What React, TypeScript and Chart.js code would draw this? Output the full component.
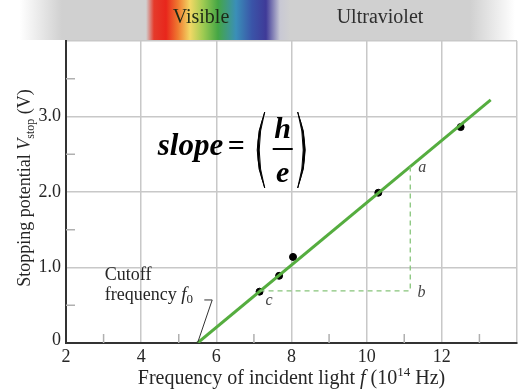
import React, { useEffect, useRef } from "react";
import { Chart, registerables } from "chart.js";

Chart.register(...registerables);

// ---- data ----
const fitLineX = [5.5, 13.3];
const fitLineY = [0, 3.22];
const measuredX = [7.15, 7.67, 8.04, 10.31, 12.5];
const measuredY = [0.68, 0.89, 1.14, 1.99, 2.86];
const triangleX = [7.15, 11.16, 11.16];
const triangleY = [0.69, 0.69, 2.34];
const leaderX = [5.68, 5.89, 5.5];
const leaderY = [0.57, 0.57, 0];
const xTickValues = [2, 4, 6, 8, 10, 12];
const xTickLabels = ["2", "4", "6", "8", "10", "12"];
const yTickValues = [0, 1, 2, 3];
const yTickLabels = ["0", "1.0", "2.0", "3.0"];
const xMinorTicks = [3, 5, 7, 9, 11, 13];
const yMinorTicks = [0.5, 1.5, 2.5, 3.5];

const SERIF = '"Liberation Serif", "Times New Roman", serif';
const TEXT = "#262626";
const GREEN = "#55ad3f";
const GREEN_DASH = "#86c47a";

type Run = { t: string; f: string; dy?: number };

function runsWidth(ctx: CanvasRenderingContext2D, runs: Run[]) {
  let w = 0;
  for (const r of runs) {
    ctx.font = r.f;
    w += ctx.measureText(r.t).width;
  }
  return w;
}
function drawRuns(ctx: CanvasRenderingContext2D, runs: Run[], x: number, y: number) {
  let cx = x;
  for (const r of runs) {
    ctx.font = r.f;
    ctx.fillText(r.t, cx, y + (r.dy || 0));
    cx += ctx.measureText(r.t).width;
  }
}

const overlay = {
  id: "overlay",
  beforeDraw(chart: any) {
    const ctx: CanvasRenderingContext2D = chart.ctx;
    const W = chart.width;
    ctx.save();
    ctx.fillStyle = "#ffffff";
    ctx.fillRect(0, 0, W, chart.height);
    // spectrum band
    const g = ctx.createLinearGradient(0, 0, W, 0);
    const gray = "#d0d0d0";
    const stops: [number, string][] = [
      [20, "#ffffff"],
      [62, gray],
      [146, gray],
      [154, "#e53a2a"],
      [166, "#e8261c"],
      [178, "#ef7a30"],
      [190, "#f2d865"],
      [203, "#9fcb52"],
      [218, "#45a645"],
      [236, "#3a8fb8"],
      [252, "#3a54a8"],
      [266, "#3f3a98"],
      [280, "#c8c8d4"],
      [290, gray],
      [470, gray],
      [515, "#ffffff"],
    ];
    for (const [px, c] of stops) g.addColorStop(Math.min(1, px / W), c);
    ctx.fillStyle = g;
    ctx.fillRect(0, 0, W, 40);
    ctx.textBaseline = "alphabetic";
    ctx.textAlign = "center";
    ctx.font = `20px ${SERIF}`;
    ctx.fillStyle = "#1e2a16";
    ctx.fillText("Visible", 201, 23);
    ctx.fillStyle = "#2e2e2e";
    ctx.fillText("Ultraviolet", 380, 23);
    ctx.restore();
  },
  afterDraw(chart: any) {
    const ctx: CanvasRenderingContext2D = chart.ctx;
    const xs = chart.scales.x;
    const ys = chart.scales.y;
    const area = chart.chartArea;
    ctx.save();
    // minor ticks
    ctx.strokeStyle = "#b0b0b0";
    ctx.lineWidth = 1.5;
    for (const v of xMinorTicks) {
      const px = xs.getPixelForValue(v);
      ctx.beginPath();
      ctx.moveTo(px, area.bottom);
      ctx.lineTo(px, area.bottom - 9);
      ctx.stroke();
    }
    for (const v of yMinorTicks) {
      const py = ys.getPixelForValue(v);
      ctx.beginPath();
      ctx.moveTo(area.left, py);
      ctx.lineTo(area.left + 9, py);
      ctx.stroke();
    }
    // tick labels
    ctx.fillStyle = TEXT;
    ctx.font = `18px ${SERIF}`;
    ctx.textAlign = "center";
    ctx.textBaseline = "alphabetic";
    xTickValues.forEach((v, i) => {
      ctx.fillText(xTickLabels[i], xs.getPixelForValue(v), area.bottom + 19);
    });
    ctx.textAlign = "right";
    ctx.textBaseline = "middle";
    yTickValues.forEach((v, i) => {
      const py = ys.getPixelForValue(v);
      ctx.fillText(yTickLabels[i], area.left - 5, v === 0 ? py - 3 : py);
    });
    // x axis title
    ctx.textAlign = "left";
    ctx.textBaseline = "alphabetic";
    const f20 = `20px ${SERIF}`;
    const xRuns: Run[] = [
      { t: "Frequency of incident light ", f: f20 },
      { t: "f", f: `italic 20px ${SERIF}` },
      { t: " (10", f: f20 },
      { t: "14", f: `13px ${SERIF}`, dy: -8 },
      { t: " Hz)", f: f20 },
    ];
    const xw = runsWidth(ctx, xRuns);
    drawRuns(ctx, xRuns, (area.left + area.right) / 2 - xw / 2, 384);
    // y axis title
    const f18 = `18px ${SERIF}`;
    const yRuns: Run[] = [
      { t: "Stopping potential ", f: f18 },
      { t: "V", f: `italic 18px ${SERIF}` },
      { t: "stop", f: `12px ${SERIF}`, dy: 4 },
      { t: " (V)", f: f18 },
    ];
    const yw = runsWidth(ctx, yRuns);
    ctx.save();
    ctx.translate(30, 188);
    ctx.rotate(-Math.PI / 2);
    drawRuns(ctx, yRuns, -yw / 2, 0);
    ctx.restore();

    // labels a, b, c
    ctx.font = `italic 16px ${SERIF}`;
    ctx.fillStyle = "#444";
    ctx.textAlign = "center";
    ctx.textBaseline = "middle";
    ctx.fillText("a", xs.getPixelForValue(11.48), ys.getPixelForValue(2.32));
    ctx.fillText("b", xs.getPixelForValue(11.46), ys.getPixelForValue(0.66));
    ctx.fillText("c", xs.getPixelForValue(7.4), ys.getPixelForValue(0.56));

    // cutoff text
    ctx.fillStyle = TEXT;
    ctx.textAlign = "left";
    ctx.textBaseline = "alphabetic";
    const cx = xs.getPixelForValue(3.03);
    const cy1 = ys.getPixelForValue(0.83);
    const cy2 = ys.getPixelForValue(0.57);
    ctx.font = `18px ${SERIF}`;
    ctx.fillText("Cutoff", cx, cy1);
    drawRuns(
      ctx,
      [
        { t: "frequency ", f: `18px ${SERIF}` },
        { t: "f", f: `italic 19px ${SERIF}` },
        { t: "0", f: `13px ${SERIF}`, dy: 3 },
      ],
      cx,
      cy2
    );

    // slope formula
    const sx = xs.getPixelForValue(4.44);
    const sy = ys.getPixelForValue(2.49);
    ctx.fillStyle = "#000";
    const bi = `bold italic 31px ${SERIF}`;
    ctx.font = bi;
    ctx.fillText("slope", sx, sy);
    ctx.font = `bold 30px ${SERIF}`;
    ctx.fillText("=", sx + 70, sy);
    const fx = sx + 125;
    ctx.font = `bold italic 30px ${SERIF}`;
    ctx.textAlign = "center";
    ctx.fillText("h", fx, sy - 17);
    ctx.fillText("e", fx, sy + 27);
    ctx.fillRect(fx - 10, sy - 7, 20, 2);
    // parentheses
    const top = sy - 43;
    const bot = sy + 33;
    const mid = (top + bot) / 2;
    ctx.lineWidth = 1;
    ctx.strokeStyle = "#000";
    ctx.beginPath();
    ctx.moveTo(fx - 18, top);
    ctx.quadraticCurveTo(fx - 33, mid, fx - 18, bot);
    ctx.quadraticCurveTo(fx - 29, mid, fx - 18, top);
    ctx.fill();
    ctx.stroke();
    ctx.beginPath();
    ctx.moveTo(fx + 15, top);
    ctx.quadraticCurveTo(fx + 30, mid, fx + 15, bot);
    ctx.quadraticCurveTo(fx + 26, mid, fx + 15, top);
    ctx.fill();
    ctx.stroke();
    ctx.restore();
  },
};

function pts(xs: number[], ys: number[]) {
  return xs.map((x, i) => ({ x, y: ys[i] }));
}

export default function App() {
  const ref = useRef<HTMLCanvasElement | null>(null);
  useEffect(() => {
    if (!ref.current) return;
    const chart = new Chart(ref.current, {
      type: "scatter",
      data: {
        datasets: [
          {
            type: "line",
            data: pts(leaderX, leaderY),
            borderColor: "#333",
            borderWidth: 1,
            pointRadius: 0,
            showLine: true,
          } as any,
          {
            type: "line",
            data: pts(triangleX, triangleY),
            borderColor: GREEN_DASH,
            borderWidth: 1.3,
            borderDash: [5, 4],
            pointRadius: 0,
            showLine: true,
          } as any,
          {
            type: "line",
            data: pts(fitLineX, fitLineY),
            borderColor: GREEN,
            borderWidth: 3,
            pointRadius: 0,
            showLine: true,
          } as any,
          {
            data: pts(measuredX, measuredY),
            backgroundColor: "#000",
            borderColor: "#000",
            pointRadius: 3.5,
          },
        ],
      },
      options: {
        animation: false,
        responsive: false,
        maintainAspectRatio: false,
        layout: { padding: { left: 66, top: 41, right: 3, bottom: 47 } },
        plugins: { legend: { display: false }, tooltip: { enabled: false } },
        scales: {
          x: {
            type: "linear",
            min: 2,
            max: 14,
            ticks: { display: false, stepSize: 1 },
            grid: {
              drawTicks: false,
              lineWidth: 1.5,
              color: (c: any) => (c.tick && c.tick.value % 2 === 0 ? "#c8c8c8" : "rgba(0,0,0,0)"),
            },
            border: { color: "#333", width: 2 },
          },
          y: {
            type: "linear",
            min: 0,
            max: 4,
            ticks: { display: false, stepSize: 0.5 },
            grid: {
              drawTicks: false,
              lineWidth: 1.5,
              color: (c: any) =>
                c.tick && Number.isInteger(c.tick.value) ? "#c8c8c8" : "rgba(0,0,0,0)",
            },
            border: { color: "#333", width: 2 },
          },
        },
      },
      plugins: [overlay],
    } as any);
    return () => chart.destroy();
  }, []);
  return (
    <div style={{ position: "fixed", left: 0, top: 0, width: 522, height: 390, background: "#fff" }}>
      <canvas ref={ref} width={522} height={390} style={{ width: 522, height: 390, display: "block" }} />
    </div>
  );
}
